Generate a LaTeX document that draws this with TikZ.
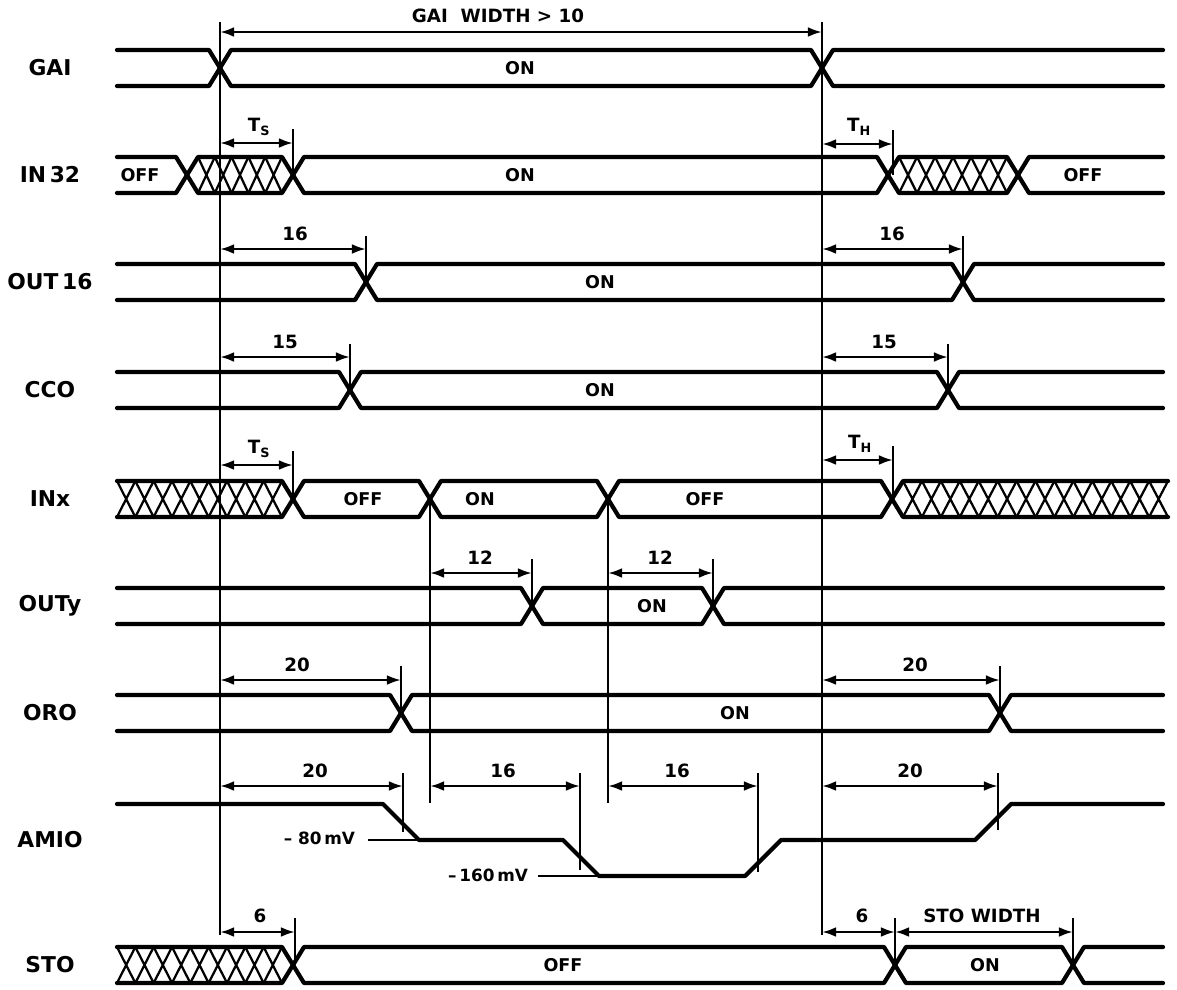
\documentclass[tikz,border=0pt]{standalone}
\usepackage{fontspec}
\setmainfont{DejaVu Sans}
\usetikzlibrary{arrows.meta}

\begin{document}
\begin{tikzpicture}[x=0.025cm, y=-0.025cm,
    wave/.style={line width=3pt, line cap=round, line join=round},
    hatch/.style={line width=1.6pt},
    guide/.style={line width=1.2pt},
    tick/.style={line width=1.3pt},
    dimen/.style={line width=1.8pt, {Latex[length=10pt,width=7pt]}-{Latex[length=10pt,width=7pt]}},
    signame/.style={font=\bfseries\fontsize{15.5}{16}\selectfont},
    stat/.style={font=\bfseries\fontsize{12.5}{12}\selectfont},
    dimtext/.style={font=\bfseries\fontsize{13}{13}\selectfont},
    mvtext/.style={font=\bfseries\fontsize{12}{12}\selectfont}]

\useasboundingbox (0,0) rectangle (1177,989);

% signal names
\node [signame] (gai) at (50,68) {GAI};
\node [signame] (in32) at (50,175) {IN\,32};
\node [signame] (out16) at (50,282) {OUT\,16};
\node [signame] (cco) at (50,390) {CCO};
\node [signame] (inx) at (50,499) {INx};
\node [signame] (outy) at (50,606) {OUTy};
\node [signame] (oro) at (50,713) {ORO};
\node [signame] (amio) at (50,840) {AMIO};
\node [signame] (sto) at (50,965) {STO};

% guide lines
\draw [guide] (220,22) -- (220,935);
\draw [guide] (822,22) -- (822,935);
\draw [guide] (430,499) -- (430,803);
\draw [guide] (608,499) -- (608,803);

% GAI
\draw [wave] (117,50) -- (209,50) -- (231,86) -- (811,86) -- (833,50) -- (1163,50);
\draw [wave] (117,86) -- (209,86) -- (231,50) -- (811,50) -- (833,86) -- (1163,86);
\node [stat] (gaion) at (520,68) {ON};
\draw [dimen] (220,32) -- (822,32);
\node [dimtext] (gaiw) at (498,16) {GAI\ \ WIDTH\ > 10};

% IN 32
\draw [wave] (117,157) -- (176,157) -- (198,193) -- (282,193) -- (304,157) -- (877,157) -- (899,193) -- (1007,193) -- (1029,157) -- (1163,157);
\draw [wave] (117,193) -- (176,193) -- (198,157) -- (282,157) -- (304,193) -- (877,193) -- (899,157) -- (1007,157) -- (1029,193) -- (1163,193);
\foreach \i in {0,...,4}
  \draw [hatch] ({198+\i*16.8},157) -- ({198+(\i+1)*16.8},193) ({198+\i*16.8},193) -- ({198+(\i+1)*16.8},157);
\foreach \i in {0,...,5}
  \draw [hatch] ({899+\i*18},157) -- ({899+(\i+1)*18},193) ({899+\i*18},193) -- ({899+(\i+1)*18},157);
\node [stat] (in32a) at (140,175) {OFF};
\node [stat] (in32b) at (520,175) {ON};
\node [stat] (in32c) at (1083,175) {OFF};
\draw [tick] (293,129) -- (293,175);
\draw [dimen] (220,143) -- (293,143);
\node [dimtext] (ts1) at (259,127) {T\textsubscript{S}};
\draw [tick] (893,130) -- (893,175);
\draw [dimen] (822,144) -- (893,144);
\node [dimtext] (th1) at (859,127) {T\textsubscript{H}};

% OUT 16
\draw [wave] (117,264) -- (355,264) -- (377,300) -- (952,300) -- (974,264) -- (1163,264);
\draw [wave] (117,300) -- (355,300) -- (377,264) -- (952,264) -- (974,300) -- (1163,300);
\node [stat] (out16on) at (600,282) {ON};
\draw [tick] (366,236) -- (366,282);
\draw [dimen] (220,249) -- (366,249);
\node [dimtext] (d16a) at (295,234) {16};
\draw [tick] (963,236) -- (963,282);
\draw [dimen] (822,249) -- (963,249);
\node [dimtext] (d16b) at (892,234) {16};

% CCO
\draw [wave] (117,372) -- (339,372) -- (361,408) -- (937,408) -- (959,372) -- (1163,372);
\draw [wave] (117,408) -- (339,408) -- (361,372) -- (937,372) -- (959,408) -- (1163,408);
\node [stat] (ccoon) at (600,390) {ON};
\draw [tick] (350,344) -- (350,390);
\draw [dimen] (220,357) -- (350,357);
\node [dimtext] (d15a) at (285,342) {15};
\draw [tick] (948,344) -- (948,390);
\draw [dimen] (822,357) -- (948,357);
\node [dimtext] (d15b) at (884,342) {15};

% INx
\draw [wave] (117,481) -- (282,481) -- (304,517) -- (419,517) -- (441,481) -- (597,481) -- (619,517) -- (881,517) -- (903,481) -- (1168,481);
\draw [wave] (117,517) -- (282,517) -- (304,481) -- (419,481) -- (441,517) -- (597,517) -- (619,481) -- (881,481) -- (903,517) -- (1168,517);
\foreach \i in {0,...,8}
  \draw [hatch] ({117+\i*18.33},481) -- ({117+(\i+1)*18.33},517) ({117+\i*18.33},517) -- ({117+(\i+1)*18.33},481);
\foreach \i in {0,...,13}
  \draw [hatch] ({903+\i*18.93},481) -- ({903+(\i+1)*18.93},517) ({903+\i*18.93},517) -- ({903+(\i+1)*18.93},481);
\node [stat] (inxa) at (363,499) {OFF};
\node [stat] (inxb) at (480,499) {ON};
\node [stat] (inxc) at (705,499) {OFF};
\draw [tick] (293,451) -- (293,499);
\draw [dimen] (220,465) -- (293,465);
\node [dimtext] (ts2) at (259,449) {T\textsubscript{S}};
\draw [tick] (893,446) -- (893,499);
\draw [dimen] (822,460) -- (893,460);
\node [dimtext] (th2) at (860,444) {T\textsubscript{H}};

% OUTy
\draw [wave] (117,588) -- (521,588) -- (543,624) -- (702,624) -- (724,588) -- (1163,588);
\draw [wave] (117,624) -- (521,624) -- (543,588) -- (702,588) -- (724,624) -- (1163,624);
\node [stat] (outyon) at (652,606) {ON};
\draw [tick] (532,559) -- (532,606);
\draw [dimen] (430,573) -- (532,573);
\node [dimtext] (d12a) at (480,558) {12};
\draw [tick] (713,559) -- (713,606);
\draw [dimen] (608,573) -- (713,573);
\node [dimtext] (d12b) at (660,558) {12};

% ORO
\draw [wave] (117,695) -- (390,695) -- (412,731) -- (989,731) -- (1011,695) -- (1163,695);
\draw [wave] (117,731) -- (390,731) -- (412,695) -- (989,695) -- (1011,731) -- (1163,731);
\node [stat] (oroon) at (735,713) {ON};
\draw [tick] (401,666) -- (401,713);
\draw [dimen] (220,680) -- (401,680);
\node [dimtext] (d20a) at (297,665) {20};
\draw [tick] (1000,666) -- (1000,713);
\draw [dimen] (822,680) -- (1000,680);
\node [dimtext] (d20b) at (915,665) {20};

% AMIO
\draw [wave] (117,804) -- (383,804) -- (419,840) -- (563,840) -- (599,876) -- (745,876) -- (781,840) -- (975,840) -- (1011,804) -- (1163,804);
\draw [tick] (368,840) -- (419,840);
\draw [tick] (538,876) -- (599,876);
\node [mvtext, anchor=east] (mv80) at (360,838) {–\ 80\,mV};
\node [mvtext, anchor=east] (mv160) at (533,875) {–\,160\,mV};
\draw [tick] (403,773) -- (403,832);
\draw [dimen] (220,786) -- (403,786);
\node [dimtext] (d20c) at (315,771) {20};
\draw [tick] (580,773) -- (580,870);
\draw [dimen] (430,786) -- (580,786);
\node [dimtext] (d16c) at (503,771) {16};
\draw [tick] (758,773) -- (758,872);
\draw [dimen] (608,786) -- (758,786);
\node [dimtext] (d16d) at (677,771) {16};
\draw [tick] (998,773) -- (998,830);
\draw [dimen] (822,786) -- (998,786);
\node [dimtext] (d20d) at (910,771) {20};

% STO
\draw [wave] (117,947) -- (282,947) -- (304,983) -- (884,983) -- (906,947) -- (1062,947) -- (1084,983) -- (1163,983);
\draw [wave] (117,983) -- (282,983) -- (304,947) -- (884,947) -- (906,983) -- (1062,983) -- (1084,947) -- (1163,947);
\foreach \i in {0,...,8}
  \draw [hatch] ({117+\i*18.33},947) -- ({117+(\i+1)*18.33},983) ({117+\i*18.33},983) -- ({117+(\i+1)*18.33},947);
\node [stat] (stooff) at (563,965) {OFF};
\node [stat] (stoon) at (985,965) {ON};
\draw [tick] (295,918) -- (295,965);
\draw [dimen] (220,932) -- (295,932);
\node [dimtext] (d6a) at (260,916) {6};
\draw [tick] (895,918) -- (895,965);
\draw [dimen] (822,932) -- (895,932);
\node [dimtext] (d6b) at (862,916) {6};
\draw [tick] (1073,918) -- (1073,965);
\draw [dimen] (895,932) -- (1073,932);
\node [dimtext] (stow) at (982,916) {STO\ WIDTH};

\end{tikzpicture}
\end{document}
